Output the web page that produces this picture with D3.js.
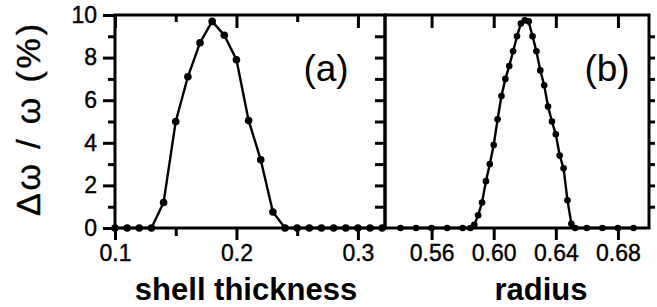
<!DOCTYPE html>
<html>
<head>
<meta charset="utf-8">
<script src="https://cdn.jsdelivr.net/npm/d3@7"></script>
<style>
  body { margin: 0; background: #fff; }
  svg { display: block; font-family: "Liberation Sans", Arial, sans-serif; }
  .axis path { display: none; }
  .axis line { stroke: #000; stroke-width: 3; }
</style>
</head>
<body>
<div id="chart"></div>
<script>
// panel (a): shell thickness
const shellX = [0.10, 0.11, 0.12, 0.13, 0.14, 0.15, 0.16, 0.17, 0.18, 0.19, 0.20, 0.21,
                0.22, 0.23, 0.24, 0.25, 0.26, 0.27, 0.28, 0.29, 0.30, 0.31, 0.32];
const shellY = [0, 0, 0, 0, 1.2, 5.0, 7.1, 8.7, 9.7, 9.05, 7.9, 5.05,
                3.2, 0.75, 0, 0, 0, 0, 0, 0, 0, 0, 0];

// panel (b): radius
const radiusX = [0.54, 0.55, 0.56, 0.57, 0.58, 0.585, 0.5875, 0.59, 0.5925, 0.595, 0.5975,
                 0.60, 0.6025, 0.605, 0.6075, 0.61, 0.6125, 0.615, 0.6175, 0.62, 0.6225,
                 0.625, 0.6275, 0.63, 0.6325, 0.635, 0.6375, 0.64, 0.6425, 0.645, 0.6475,
                 0.65, 0.6525, 0.66, 0.67, 0.68, 0.69];
const radiusY = [0, 0, 0, 0, 0, 0, 0.15, 0.6, 1.2, 2.2, 3.0,
                 3.9, 5.1, 6.2, 7.0, 7.6, 8.3, 9.0, 9.6, 9.75, 9.7,
                 9.0, 8.3, 7.4, 6.7, 5.7, 5.0, 4.4, 3.4, 2.8, 1.3,
                 0.2, 0, 0, 0, 0, 0];

const shellTicks = [0.1, 0.2, 0.3]
    , shellMinor = [0.15, 0.25]
    , radiusTicks = [0.56, 0.60, 0.64, 0.68]
    , yTicks = [0, 2, 4, 6, 8, 10]
    , yMinor = [1, 3, 5, 7, 9]
    , yAll = [1, 2, 3, 4, 5, 6, 7, 8, 9];

const width = 657
    , height = 307
    , plotTop = 15
    , plotBottom = 228
    , plotLeft = 115
    , plotMid = 385
    , plotRight = 649
    , tickFont = '23px'
    ;

const svg = d3.select('#chart').append('svg')
  .attr('width', width)
  .attr('height', height);

const y = d3.scaleLinear().domain([0, 10]).range([plotBottom, plotTop]);
const xa = d3.scaleLinear().domain([0.1, 0.3223]).range([plotLeft, plotMid]);
const xb = d3.scaleLinear().domain([0.53, 0.70]).range([plotMid, plotRight]);

function noLabel() { return ''; }

function axis(tx, ty, gen) {
  const g = svg.append('g').attr('class', 'axis')
    .attr('transform', `translate(${tx},${ty})`)
    .call(gen);
  g.attr('font-family', null).attr('font-size', null);
  g.selectAll('text')
    .style('font-size', tickFont)
    .style('fill', '#000')
    .style('stroke', '#000')
    .style('stroke-width', 0.4);
}

// bottom axes with labels
axis(0, plotBottom, d3.axisBottom(xa).tickValues(shellTicks).tickSize(12).tickPadding(5).tickFormat(d3.format('.1f')));
axis(0, plotBottom, d3.axisBottom(xa).tickValues(shellMinor).tickSize(8).tickFormat(noLabel));
axis(0, plotBottom, d3.axisBottom(xb).tickValues(radiusTicks).tickSize(12).tickPadding(5).tickFormat(d3.format('.2f')));

// top axes, ticks pointing in
axis(0, plotTop, d3.axisBottom(xa).tickValues(shellTicks).tickSize(13).tickFormat(noLabel));
axis(0, plotTop, d3.axisBottom(xa).tickValues(shellMinor).tickSize(7).tickFormat(noLabel));
axis(0, plotTop, d3.axisBottom(xb).tickValues(radiusTicks).tickSize(13).tickFormat(noLabel));

// left axis
axis(plotLeft, 0, d3.axisLeft(y).tickValues(yTicks).tickSize(12).tickPadding(6));
axis(plotLeft, 0, d3.axisLeft(y).tickValues(yMinor).tickSize(7).tickFormat(noLabel));

// middle divider, ticks into panel (a)
axis(plotMid, 0, d3.axisLeft(y).tickValues(yAll).tickSize(10).tickFormat(noLabel));

// right axis, ticks out
axis(plotRight, 0, d3.axisRight(y).tickValues(yAll).tickSize(6).tickFormat(noLabel));

// frames
[[plotLeft, plotMid], [plotMid, plotRight]].forEach(([x0, x1]) => {
  svg.append('rect')
    .attr('x', x0).attr('y', plotTop)
    .attr('width', x1 - x0).attr('height', plotBottom - plotTop)
    .attr('fill', 'none')
    .attr('stroke', '#000')
    .attr('stroke-width', 3);
});

function series(xs, ys, x, r) {
  const pts = xs.map((d, i) => [d, ys[i]]);
  svg.append('path')
    .datum(pts)
    .attr('fill', 'none')
    .attr('stroke', '#000')
    .attr('stroke-width', 2.4)
    .attr('d', d3.line().x(d => x(d[0])).y(d => y(d[1])));
  svg.append('g')
    .selectAll('circle')
    .data(pts)
    .join('circle')
      .attr('cx', d => x(d[0]))
      .attr('cy', d => y(d[1]))
      .attr('r', r)
      .attr('fill', '#000');
}

series(shellX, shellY, xa, 3.8);
series(radiusX, radiusY, xb, 3.3);

// panel letters
svg.append('text').attr('x', 326).attr('y', 81)
  .attr('text-anchor', 'middle').style('font-size', '37px').text('(a)');
svg.append('text').attr('x', 607).attr('y', 81)
  .attr('text-anchor', 'middle').style('font-size', '37px').text('(b)');

// axis titles
svg.append('text').attr('x', 246).attr('y', 300)
  .attr('text-anchor', 'middle').style('font-size', '31px').style('font-weight', 'bold')
  .text('shell thickness');
svg.append('text').attr('x', 541).attr('y', 300)
  .attr('text-anchor', 'middle').style('font-size', '31px').style('font-weight', 'bold')
  .text('radius');

svg.append('text')
  .attr('transform', 'translate(40,120) rotate(-90)')
  .attr('text-anchor', 'middle')
  .attr('textLength', 192)
  .attr('lengthAdjust', 'spacing')
  .style('font-size', '34px')
  .style('stroke', '#000')
  .style('stroke-width', 0.4)
  .text('\u0394\u03c9 / \u03c9 (%)');
</script>
</body>
</html>
